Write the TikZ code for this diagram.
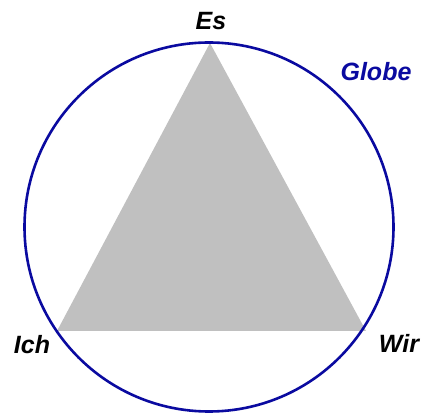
\documentclass[tikz,border=0pt]{standalone}
\usepackage{fontspec}
\setmainfont{Liberation Sans}
\definecolor{globeblue}{HTML}{0A0AA0}
\definecolor{trigray}{HTML}{C0C0C0}
\begin{document}
\begin{tikzpicture}[x=1pt,y=-1pt,
  lbl/.style={font=\fontsize{25}{28}\selectfont\bfseries\itshape, inner sep=0pt}]
\useasboundingbox (0,0) rectangle (421,414);
\coordinate (ctr) at (209,227);
\coordinate (top) at (210,43);
\coordinate (bl) at (57,331);
\coordinate (br) at (366,331);
\fill[trigray] (top) -- (bl) -- (br) -- cycle;
\draw[globeblue, line width=2.6pt] (ctr) circle[radius=184.5];
\node[lbl] (es) at (211,21) {Es};
\node[lbl, text=globeblue] (globe) at (376,72) {Globe};
\node[lbl] (ich) at (32,345) {Ich};
\node[lbl] (wir) at (399,343) {Wir};
\end{tikzpicture}
\end{document}
